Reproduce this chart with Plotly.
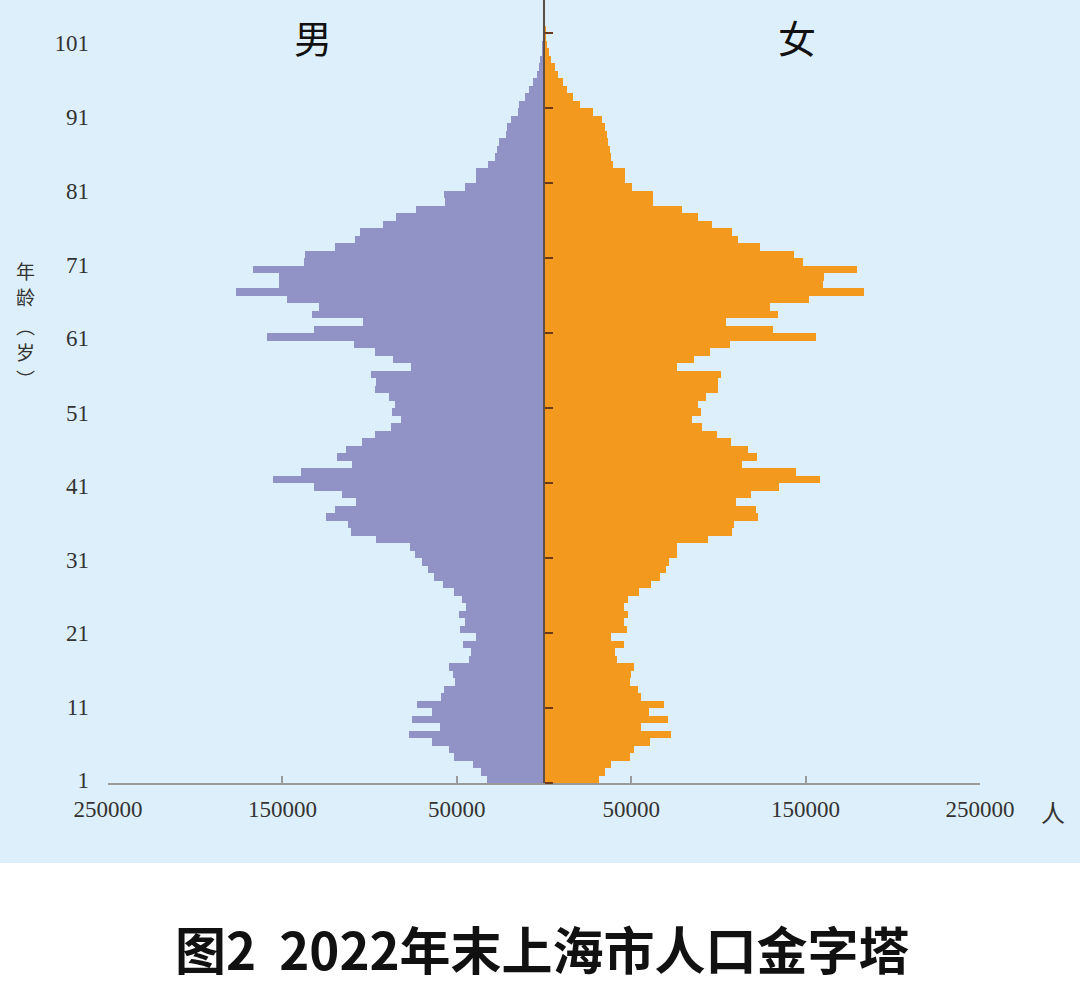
import plotly.graph_objects as go

# ---------------- data ----------------
ages = list(range(1, 104))  # single-year age groups, bottom to top

male = [32.6, 36.4, 40.6, 51.7, 54.4, 64.2, 77.4, 59.4, 75.7, 64.2,
        72.8, 58.8, 57.3, 50.8, 52.1, 54.4, 43.1, 42.1, 46.7, 39.1,
        47.9, 45.4, 48.7, 44.8, 47.3, 51.7, 57.8, 63.3, 66.5, 69.7,
        74.1, 76.6, 96.5, 110.9, 112.4, 124.9, 120.1, 107.6, 115.7, 131.6,
        155.5, 139.3, 110.1, 118.8, 113.8, 104.4, 96.7, 87.5, 81.8, 87.2,
        85.3, 88.9, 97.1, 96.2, 99.0, 76.1, 86.6, 97.1, 109.2, 159.0,
        131.6, 103.8, 133.1, 129.3, 147.5, 176.6, 151.7, 151.7, 167.0, 137.9,
        136.8, 119.7, 108.6, 105.7, 92.3, 85.1, 73.2, 56.9, 57.5, 45.4,
        39.1, 39.1, 32.0, 28.2, 27.2, 25.9, 21.8, 21.1, 19.2, 14.8,
        14.2, 10.9, 8.4, 6.1, 4.2, 2.7, 2.1, 1.3, 0.8, 0.5,
        0.4, 0.3, 0.2]  # thousand persons

female = [31.4, 34.9, 38.3, 49.2, 51.5, 60.7, 72.6, 55.9, 70.9, 60.3,
          68.8, 55.6, 54.0, 49.2, 49.8, 51.7, 41.6, 40.6, 46.0, 38.3,
          47.7, 45.8, 47.9, 45.8, 47.9, 54.6, 61.3, 66.5, 69.9, 71.8,
          76.1, 76.1, 94.3, 107.7, 109.0, 122.6, 121.6, 110.2, 118.6, 134.5,
          158.4, 144.4, 113.4, 122.0, 117.2, 107.1, 99.0, 90.4, 84.7, 89.8,
          88.1, 92.9, 100.0, 99.8, 101.4, 76.1, 86.0, 95.2, 106.7, 156.1,
          131.2, 104.4, 133.9, 129.3, 151.7, 183.3, 160.0, 160.7, 179.5, 148.5,
          143.5, 124.0, 111.5, 107.7, 96.2, 88.5, 78.9, 62.6, 62.6, 50.2,
          46.4, 46.4, 39.3, 38.7, 37.7, 36.8, 36.2, 34.9, 33.5, 28.2,
          20.5, 16.7, 13.2, 10.9, 8.0, 6.1, 4.2, 2.9, 1.7, 1.0,
          0.7, 0.4, 0.2]  # thousand persons

age_tick_labels = ["1", "11", "21", "31", "41", "51", "61", "71", "81", "91", "101"]
age_tick_marks = [0.5, 10.5, 20.5, 30.5, 40.5, 50.5, 60.5, 70.5, 80.5, 90.5, 100.5]
age_label_pos = [0.9, 10.6, 20.5, 30.2, 40.1, 49.8, 59.8, 69.6, 79.4, 89.3, 99.2]

x_tick_vals = [-250000, -150000, -50000, 50000, 150000, 250000]
x_tick_text = ["250000", "150000", "50000", "50000", "150000", "250000"]

y_title_chars = ["年", "龄", "︵", "岁", "︶"]

# ---------------- styles ----------------
BG = "#DDEFFA"
PURPLE = "#9193C6"
ORANGE = "#F39A1E"
SERIF = "Liberation Serif, DejaVu Serif, serif"
CJK = "Noto Sans CJK SC, Noto Sans CJK JP, sans-serif"

male_people = [-v * 1000 for v in male]
female_people = [v * 1000 for v in female]

fig = go.Figure()
fig.add_trace(go.Bar(
    y=ages, x=male_people, orientation="h", width=1,
    marker=dict(color=PURPLE, line=dict(width=0)),
    name="男", customdata=[v * 1000 for v in male],
    hovertemplate="男 %{y}岁: %{customdata:,.0f}人<extra></extra>",
))
fig.add_trace(go.Bar(
    y=ages, x=female_people, orientation="h", width=1, yaxis="y2",
    marker=dict(color=ORANGE, line=dict(width=0)),
    name="女",
    hovertemplate="女 %{y}岁: %{x:,.0f}人<extra></extra>",
))

# vertical axis title, one character per annotation (pixel rows -> paper)
title_rows_px = [270, 296, 325, 351, 378]
annos = []
for ch, py in zip(y_title_chars, title_rows_px):
    annos.append(dict(text=ch, x=(25 - 108) / 872, y=(783 - py) / 783,
                      xref="paper", yref="paper", showarrow=False,
                      xanchor="center", yanchor="middle",
                      font=dict(family=CJK, size=19, color="#333333")))

annos += [
    dict(text="男", x=(313 - 108) / 872, y=(783 - 37) / 783, xref="paper", yref="paper",
         showarrow=False, xanchor="center", yanchor="middle",
         font=dict(family=CJK, size=38, color="#111111")),
    dict(text="女", x=(797 - 108) / 872, y=(783 - 37) / 783, xref="paper", yref="paper",
         showarrow=False, xanchor="center", yanchor="middle",
         font=dict(family=CJK, size=38, color="#111111")),
    dict(text="人", x=(1053 - 108) / 872, y=(783 - 811) / 783, xref="paper", yref="paper",
         showarrow=False, xanchor="center", yanchor="middle",
         font=dict(family=CJK, size=24, color="#333333")),
    dict(text="<b>图2\u00a0\u00a02022年末上海市人口金字塔</b>",
         x=(542 - 108) / 872, y=(783 - 948) / 783,
         xref="paper", yref="paper", showarrow=False, xanchor="center", yanchor="middle",
         font=dict(family=CJK, size=51, color="#111111")),
]

yr = [0.5, 104.9]
fig.update_layout(
    width=1080, height=993,
    margin=dict(l=108, r=100, t=0, b=210),
    paper_bgcolor=BG, plot_bgcolor=BG,
    showlegend=False, barmode="overlay", bargap=0,
    xaxis=dict(
        range=[-250000, 250000], tickvals=x_tick_vals, ticktext=x_tick_text,
        ticks="inside", ticklen=7, tickwidth=2, tickcolor="#9a9a9a",
        showline=True, linecolor="#9a9a9a", linewidth=2,
        showgrid=False, zeroline=False,
        tickfont=dict(family=SERIF, size=23, color="#333333"),
        ticklabelstandoff=4,
    ),
    yaxis=dict(
        range=yr, tickvals=age_label_pos, ticktext=age_tick_labels,
        ticks="", showline=False, showgrid=False, zeroline=False,
        tickfont=dict(family=SERIF, size=23, color="#333333"),
        ticklabelstandoff=18,
    ),
    yaxis2=dict(
        range=yr, overlaying="y", anchor="free", position=0.5, side="right",
        tickvals=age_tick_marks, ticks="outside", ticklen=8, tickwidth=2,
        tickcolor="#6b3a1a", showticklabels=False,
        showline=True, linecolor="#5e5048", linewidth=2,
        showgrid=False, zeroline=False,
    ),
    shapes=[dict(type="rect", xref="paper", yref="paper",
                 x0=-0.2, x1=1.2, y0=(783 - 863) / 783, y1=-0.3,
                 fillcolor="white", line=dict(width=0), layer="below")],
    annotations=annos,
)

fig.write_html("out.html", config={"displayModeBar": False},
               post_script="document.body.style.margin='0';")
